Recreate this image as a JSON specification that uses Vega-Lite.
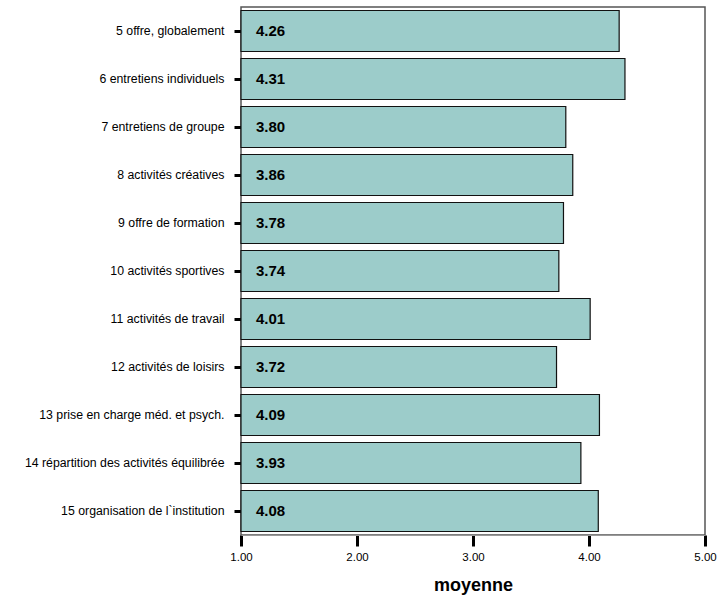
{
  "$schema": "https://vega.github.io/schema/vega-lite/v6.json",
  "autosize": "none",
  "width": 464,
  "height": 528,
  "padding": {"left": 241, "top": 7, "right": 17, "bottom": 66},
  "config": {
    "font": "Liberation Sans",
    "view": {"stroke": "#555555", "strokeWidth": 1.5}
  },
  "resolve": {"axis": {"x": "independent"}},
  "data": {
    "values": [
      {"item": "5 offre, globalement", "v": 4.26},
      {"item": "6 entretiens individuels", "v": 4.31},
      {"item": "7 entretiens de groupe", "v": 3.80},
      {"item": "8 activités créatives", "v": 3.86},
      {"item": "9 offre de formation", "v": 3.78},
      {"item": "10 activités sportives", "v": 3.74},
      {"item": "11 activités de travail", "v": 4.01},
      {"item": "12 activités de loisirs", "v": 3.72},
      {"item": "13 prise en charge méd. et psych.", "v": 4.09},
      {"item": "14 répartition des activités équilibrée", "v": 3.93},
      {"item": "15 organisation de l`institution", "v": 4.08}
    ]
  },
  "encoding": {
    "y": {
      "field": "item", "type": "nominal", "sort": null,
      "scale": {"paddingInner": 0.146, "paddingOuter": 0.073},
      "axis": {"title": null, "labelFontSize": 12.3, "labelColor": "#000000", "labelPadding": 10,
        "tickSize": 7, "tickWidth": 3, "tickColor": "#000000", "domain": false, "labelLimit": 300}
    }
  },
  "layer": [
    {
      "mark": {"type": "bar", "fill": "#9CCCCA", "stroke": "#111111", "strokeWidth": 1.2},
      "encoding": {
        "x": {
          "field": "v", "type": "quantitative",
          "scale": {"domain": [1, 5], "zero": false, "nice": false},
          "axis": {"title": "moyenne", "titleFontSize": 18, "titleFontWeight": "bold", "titleColor": "black", "titlePadding": 14,
            "tickCount": 4, "format": ".2f",
            "labelFontSize": 11.5, "labelColor": "black", "labelPadding": 5, "labelFlush": false,
            "ticks": true, "tickSize": 11, "tickWidth": 3, "tickColor": "black", "tickOpacity": 1,
            "domainColor": "#999999", "grid": false, "zindex": 1}
        },
        "x2": {"datum": 1}
      }
    },
    {
      "mark": {"type": "text", "align": "left", "dx": 15, "fontWeight": "bold", "fontSize": 15, "color": "#000000"},
      "encoding": {
        "x": {"datum": 1, "type": "quantitative", "axis": null},
        "text": {"field": "v", "type": "quantitative", "format": ".2f"}
      }
    }
  ]
}
